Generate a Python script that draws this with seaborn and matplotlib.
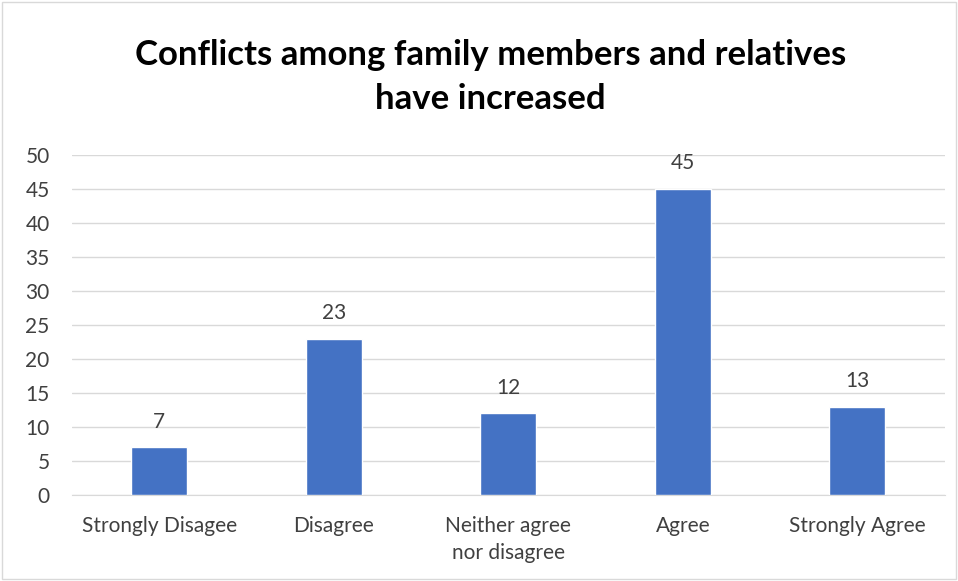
import matplotlib
matplotlib.use('Agg')
import matplotlib.pyplot as plt
import seaborn as sns
import pandas as pd

# data
categories = ['Strongly Disagee', 'Disagree', 'Neither agree\nnor disagree', 'Agree', 'Strongly Agree']
values = [7, 23, 12, 45, 13]
title = 'Conflicts among family members and relatives\nhave increased'

sns.set_style('white')
plt.rcParams['font.family'] = ['Lato', 'DejaVu Sans']

df = pd.DataFrame({'cat': categories, 'val': values})

fig = plt.figure(figsize=(9.58, 5.81), dpi=100)
ax = fig.add_axes([0.075, 0.148, 0.911, 0.585])

sns.barplot(data=df, x='cat', y='val', color='#4472C4', width=0.32,
            saturation=1, ax=ax, zorder=3)

for i, v in enumerate(values):
    ax.text(i, v + 2.3, str(v), ha='center', va='bottom', fontsize=15, color='#404040')

ax.set_ylim(0, 50)
ax.set_yticks(range(0, 51, 5))
ax.yaxis.grid(True, color='#d9d9d9', linewidth=1, zorder=0)
ax.set_xlabel('')
ax.set_ylabel('')
for s in ['top', 'right', 'left']:
    ax.spines[s].set_visible(False)
ax.spines['bottom'].set_color('#d9d9d9')
ax.tick_params(axis='both', length=0, labelsize=15, labelcolor='#404040')
ax.tick_params(axis='x', pad=15)
ax.tick_params(axis='y', pad=16)
for lbl in ax.get_xticklabels():
    lbl.set_linespacing(1.45)

fig.text(0.512, 0.867, title, ha='center', va='center', fontsize=25,
         fontweight='bold', color='black', linespacing=1.45)

# light border round the chart
fig.patches.append(plt.Rectangle((0.002, 0.003), 0.996, 0.994, transform=fig.transFigure,
                                 fill=False, edgecolor='#d9d9d9', linewidth=1))

fig.savefig('out.png', dpi=100)
